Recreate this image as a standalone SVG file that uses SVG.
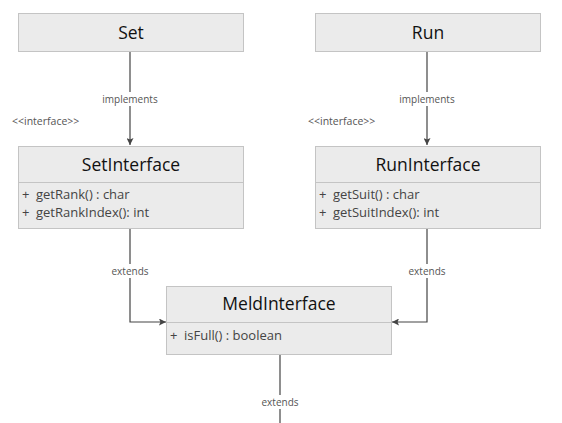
<svg xmlns="http://www.w3.org/2000/svg" width="562" height="423" viewBox="0 0 562 423">
<style>
.box{fill:#ebebeb;stroke:#c4c4c4;stroke-width:1}
.div{stroke:#c4c4c4;stroke-width:1}
.title{font-family:"Open Sans","Noto Sans",sans-serif;font-size:17.5px;fill:#111;text-anchor:middle}
.mem{font-family:"Open Sans","Noto Sans",sans-serif;font-size:13px;fill:#444}
.lbl{font-family:"Open Sans","Noto Sans",sans-serif;font-size:10px;fill:#555;text-anchor:middle}
.ster{font-family:"Open Sans","Noto Sans",sans-serif;font-size:10.5px;fill:#555}
.edge{stroke:#444;stroke-width:1.2;fill:none}
.bg{fill:#fff}
</style>
<defs>
<marker id="arr" viewBox="0 0 10 10" refX="10" refY="5" markerWidth="7" markerHeight="7" orient="auto" markerUnits="userSpaceOnUse">
<path d="M0,0 L10,5 L0,10 L2,5 z" fill="#444"/>
</marker>
</defs>
<rect width="562" height="423" fill="#fff"/>
<g id="connectors">
<path class="edge" d="M130,52 V145" marker-end="url(#arr)"/>
<path class="edge" d="M427,52 V145" marker-end="url(#arr)"/>
<path class="edge" d="M130,229 V322 H166" marker-end="url(#arr)"/>
<path class="edge" d="M427,229 V322 H392" marker-end="url(#arr)"/>
<path class="edge" d="M280,355 V423"/>
<rect class="bg" x="100" y="92" width="60" height="14"/>
<text class="lbl" x="130" y="103">implements</text>
<rect class="bg" x="397" y="92" width="60" height="14"/>
<text class="lbl" x="427" y="103">implements</text>
<rect class="bg" x="108" y="264" width="44" height="14"/>
<text class="lbl" x="130" y="275">extends</text>
<rect class="bg" x="405" y="264" width="44" height="14"/>
<text class="lbl" x="427" y="275">extends</text>
<rect class="bg" x="258" y="395" width="44" height="14"/>
<text class="lbl" x="280" y="406">extends</text>
</g>
<g id="Set">
<rect class="box" x="18.5" y="13.5" width="225" height="38"/>
<text class="title" x="131" y="39">Set</text>
</g>
<g id="Run">
<rect class="box" x="315.5" y="13.5" width="225" height="38"/>
<text class="title" x="428" y="39">Run</text>
</g>
<g id="SetInterface">
<text class="ster" x="12" y="125">&lt;&lt;interface&gt;&gt;</text>
<rect class="box" x="18.5" y="146.5" width="225" height="82"/>
<line class="div" x1="18.5" y1="182.5" x2="243.5" y2="182.5"/>
<text class="title" x="131" y="171">SetInterface</text>
<text class="mem" y="199"><tspan x="22">+</tspan><tspan x="36">getRank() : char</tspan></text>
<text class="mem" y="217"><tspan x="22">+</tspan><tspan x="36">getRankIndex(): int</tspan></text>
</g>
<g id="RunInterface">
<text class="ster" x="308" y="125">&lt;&lt;interface&gt;&gt;</text>
<rect class="box" x="315.5" y="146.5" width="225" height="82"/>
<line class="div" x1="315.5" y1="182.5" x2="540.5" y2="182.5"/>
<text class="title" x="428" y="171">RunInterface</text>
<text class="mem" y="199"><tspan x="319">+</tspan><tspan x="333">getSuit() : char</tspan></text>
<text class="mem" y="217"><tspan x="319">+</tspan><tspan x="333">getSuitIndex(): int</tspan></text>
</g>
<g id="MeldInterface">
<rect class="box" x="166.5" y="286.5" width="225" height="68"/>
<line class="div" x1="166.5" y1="322.5" x2="391.5" y2="322.5"/>
<text class="title" x="279" y="310">MeldInterface</text>
<text class="mem" y="340"><tspan x="170">+</tspan><tspan x="184">isFull() : boolean</tspan></text>
</g>
</svg>
